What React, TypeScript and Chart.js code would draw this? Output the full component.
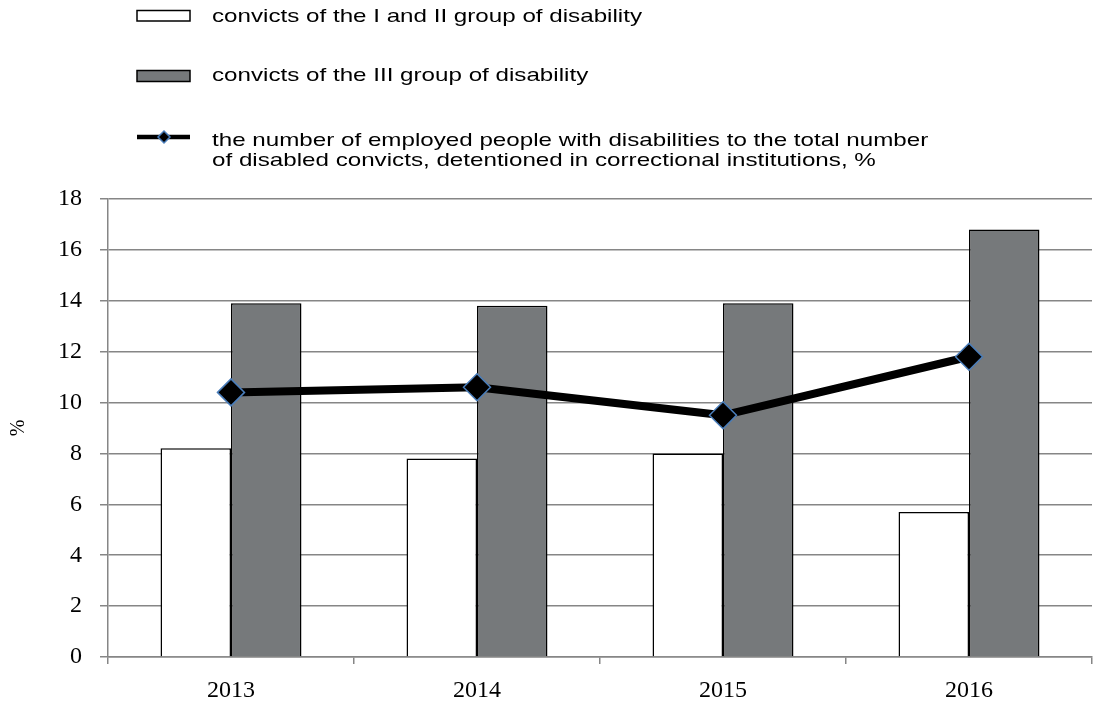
import React, { useEffect, useRef } from 'react';
import { Chart, registerables } from 'chart.js';

Chart.register(...registerables);

const categories = ['2013', '2014', '2015', '2016'];
const group12 = [8.2, 7.8, 8.0, 5.7];
const group3 = [13.9, 13.8, 13.9, 16.8];
const employedShare = [10.4, 10.6, 9.5, 11.8];
const legendLabels = [
  'convicts of the I and II group of disability',
  'convicts of the III group of disability',
  'the number of employed people with disabilities to the total number',
  'of disabled convicts, detentioned in correctional institutions, %',
];
const yMin = 0;
const yMax = 18;
const yStep = 2;
const yTitle = '%';

const SERIF = '"Liberation Serif", "Times New Roman", serif';
const SANS = '"Liberation Sans", Arial, sans-serif';
const GRID = '#868686';
const BAR_GRAY = '#76797b';
const MARKER_EDGE = '#4a7ebb';

const legendPlugin = {
  id: 'customLegend',
  afterDraw(chart: any) {
    const ctx: CanvasRenderingContext2D = chart.ctx;
    ctx.save();
    // swatch 1
    ctx.lineWidth = 1.5;
    ctx.strokeStyle = '#000';
    ctx.fillStyle = '#fff';
    ctx.fillRect(137, 10.5, 53, 10.5);
    ctx.strokeRect(137, 10.5, 53, 10.5);
    // swatch 2
    ctx.fillStyle = BAR_GRAY;
    ctx.fillRect(137, 70.5, 53, 11);
    ctx.strokeRect(137, 70.5, 53, 11);
    // swatch 3: line + diamond
    ctx.beginPath();
    ctx.lineWidth = 4.5;
    ctx.moveTo(137, 137);
    ctx.lineTo(190, 137);
    ctx.stroke();
    ctx.beginPath();
    const cx = 164, cy = 137, r = 6;
    ctx.moveTo(cx - r, cy);
    ctx.lineTo(cx, cy - r);
    ctx.lineTo(cx + r, cy);
    ctx.lineTo(cx, cy + r);
    ctx.closePath();
    ctx.fillStyle = '#000';
    ctx.fill();
    ctx.lineWidth = 1.5;
    ctx.strokeStyle = MARKER_EDGE;
    ctx.stroke();

    ctx.font = '19px ' + SANS;
    ctx.fillStyle = '#000';
    ctx.textAlign = 'left';
    ctx.textBaseline = 'alphabetic';
    const sx = 430 / ctx.measureText(legendLabels[0]).width;
    const drawText = (t: string, x: number, y: number) => {
      ctx.save();
      ctx.translate(x, y);
      ctx.scale(sx, 1);
      ctx.fillText(t, 0, 0);
      ctx.restore();
    };
    drawText(legendLabels[0], 212, 22);
    drawText(legendLabels[1], 212, 81);
    drawText(legendLabels[2], 212, 146);
    drawText(legendLabels[3], 212, 166);
    ctx.restore();
  },
};

export default function App() {
  const canvasRef = useRef<HTMLCanvasElement | null>(null);

  useEffect(() => {
    if (!canvasRef.current) return;
    const chart = new Chart(canvasRef.current, {
      type: 'bar',
      data: {
        labels: categories,
        datasets: [
          {
            type: 'line',
            label: legendLabels[2],
            data: employedShare,
            borderColor: '#000',
            borderWidth: 8,
            borderJoinStyle: 'round',
            pointStyle: 'rectRot',
            pointRadius: 13.5,
            pointBackgroundColor: '#000',
            pointBorderColor: MARKER_EDGE,
            pointBorderWidth: 1.5,
            fill: false,
            tension: 0,
            order: 0,
          } as any,
          {
            type: 'bar',
            label: legendLabels[0],
            data: group12,
            backgroundColor: '#ffffff',
            borderColor: '#000',
            borderWidth: 1.5,
            categoryPercentage: 0.573,
            barPercentage: 1,
            order: 1,
          },
          {
            type: 'bar',
            label: legendLabels[1],
            data: group3,
            backgroundColor: BAR_GRAY,
            borderColor: '#000',
            borderWidth: 1.5,
            categoryPercentage: 0.573,
            barPercentage: 1,
            order: 2,
          },
        ],
      },
      options: {
        responsive: false,
        animation: false,
        layout: { autoPadding: false, padding: { top: 199, right: 5, bottom: 0, left: 0 } },
        plugins: {
          legend: { display: false },
          tooltip: { enabled: false },
        },
        scales: {
          x: {
            grid: {
              display: true,
              drawOnChartArea: false,
              drawTicks: true,
              tickLength: 7,
              color: GRID,
              lineWidth: 1.5,
              offset: true,
            },
            border: { display: true, color: GRID, width: 1.5 },
            ticks: {
              font: { family: SERIF, size: 24 },
              color: '#000',
              padding: 12,
            },
            afterFit: (s: any) => {
              s.height = 47;
            },
          },
          y: {
            min: yMin,
            max: yMax,
            ticks: {
              stepSize: yStep,
              font: { family: SERIF, size: 24 },
              color: '#000',
              padding: 18,
            },
            grid: { color: GRID, lineWidth: 1.5, tickLength: 8 },
            border: { display: true, color: GRID, width: 1.5 },
            title: {
              display: true,
              text: yTitle,
              font: { family: SERIF, size: 20 },
              color: '#000',
              padding: { top: 7, bottom: 0 },
            },
            afterFit: (s: any) => {
              s.width = 108;
            },
          },
        },
      },
      plugins: [legendPlugin],
    });
    return () => chart.destroy();
  }, []);

  return (
    <canvas
      ref={canvasRef}
      width={1097}
      height={704}
      style={{ position: 'fixed', left: 0, top: 0, width: 1097, height: 704, background: '#fff' }}
    />
  );
}
